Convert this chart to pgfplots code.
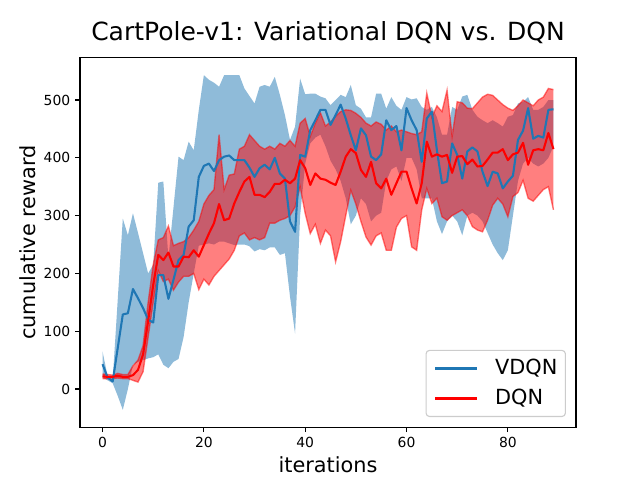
\documentclass[border=0pt]{standalone}
\usepackage{fontspec}
\setmainfont{DejaVu Sans}
\usepackage{pgfplots}
\usepackage{pgfplotstable}
\pgfplotsset{compat=1.18}
\usepgfplotslibrary{fillbetween}
\definecolor{cA}{RGB}{31,119,180}
\pgfplotstableread{
i vm vu vl dm du dl
0 43 65 20 22 26 18
1 20 22 15 21 25 18
2 13 15 10 21 24 18
3 71 155 -12 23 27 19
4 129 295 -36 21 25 18
5 131 266 0 21 25 18
6 173 304 42 24 40 15
7 157 270 47 33 50 12
8 140 235 50 60 75 30
9 120 200 53 118 150 90
10 115 215 55 180 215 150
11 197 357 60 232 258 205
12 197 359 42 223 262 186
13 156 226 36 236 282 190
14 189 314 47 212 248 171
15 223 402 52 212 252 185
16 232 396 90 229 255 195
17 281 428 150 228 262 195
18 292 413 200 240 275 200
19 367 483 248 229 290 172
20 386 543 250 249 320 190
21 390 535 252 269 335 180
22 377 530 250 287 345 195
23 396 523 255 320 440 205
24 402 543 255 292 345 215
25 404 543 252 295 370 225
26 396 543 249 321 372 240
27 396 543 250 341 415 265
28 396 520 250 359 420 270
29 383 507 247 367 440 258
30 367 494 238 336 430 262
31 382 523 242 336 420 258
32 388 526 240 332 415 262
33 380 523 245 341 420 287
34 400 540 245 355 415 287
35 373 509 232 355 425 292
36 364 474 235 362 420 295
37 290 431 160 356 430 300
38 272 454 96 364 420 315
39 405 537 300 396 460 350
40 402 510 390 382 468 304
41 448 511 425 353 437 269
42 465 511 435 373 460 285
43 483 506 440 364 478 252
44 483 503 420 362 455 275
45 457 491 395 357 462 265
46 474 500 380 353 472 220
47 492 509 360 376 480 255
48 468 505 330 402 483 300
49 439 526 285 415 482 344
50 413 491 300 408 477 320
51 451 485 330 379 470 290
52 439 470 320 367 460 263
53 402 470 290 393 455 249
54 396 511 300 356 462 265
55 406 511 305 347 458 270
56 465 485 360 364 448 240
57 448 505 380 336 455 240
58 455 490 385 356 445 280
59 413 483 360 376 448 295
60 486 505 400 376 445 300
61 465 501 400 347 442 246
62 448 503 380 321 440 240
63 393 488 330 356 445 310
64 468 483 330 428 512 347
65 480 488 330 402 470 321
66 413 470 290 406 490 330
67 356 440 268 402 480 298
68 359 440 290 405 517 292
69 425 488 300 374 437 300
70 405 483 290 402 497 305
71 364 506 266 403 495 310
72 411 509 300 389 486 300
73 418 483 305 397 485 281
74 411 471 300 385 495 275
75 376 465 290 386 505 272
76 351 460 270 397 510 292
77 376 465 250 409 508 318
78 373 460 235 409 500 330
79 347 454 223 415 492 320
80 359 471 240 396 486 298
81 369 474 300 406 482 333
82 431 494 360 409 490 340
83 447 497 390 426 500 361
84 486 505 400 388 495 330
85 433 483 390 413 490 325
86 438 483 385 415 500 335
87 435 488 390 413 505 345
88 483 500 400 443 520 350
89 484 500 420 415 518 310
}\data
\begin{document}
\begin{tikzpicture}
\begin{axis}[
  at={(0,0)}, anchor=south west,
  scale only axis, width=357.12pt, height=266.112pt,
  xmin=-4.45, xmax=93.45, ymin=-66.1, ymax=573.4,
  xtick={0,20,40,60,80}, ytick={0,100,200,300,400,500},
  tick pos=left, tick align=outside, major tick length=3.5pt,
  tick style={line width=0.8pt, black},
  axis line style={line width=0.8pt},
  tick label style={font=\fontsize{10}{12}\selectfont},
  /pgf/number format/assume math mode=true,
  title={CartPole-v1: Variational DQN vs. DQN},
  title style={font=\fontsize{18}{21}\selectfont, at={(axis description cs:0.5,1.02255)}, anchor=base},
  xlabel={iterations}, ylabel={cumulative reward},
  xlabel style={font=\fontsize{15}{18}\selectfont, at={(axis description cs:0.5,-0.1214)}, anchor=base},
  ylabel style={font=\fontsize{15}{18}\selectfont, at={(axis description cs:-0.0888,0.5)}, anchor=base},
  legend style={at={(axis description cs:0.9798,0.0274)}, anchor=south east,
    font=\fontsize{15}{18}\selectfont,
    draw=black!20, line width=0.8pt, rounded corners=2.5pt, fill=white, fill opacity=0.8, text opacity=1,
    inner xsep=5.8pt, inner ysep=6pt, row sep=7.6pt, column sep=12.2pt,
    nodes={inner sep=0pt, text height=11pt, text depth=3pt}},
  legend cell align=left,
  legend image code/.code={\draw[#1] (0pt,0pt) -- (30.2pt,0pt);},
]
\addplot[name path=VU, draw=none, forget plot] table[x=i,y=vu]{\data};
\addplot[name path=VL, draw=none, forget plot] table[x=i,y=vl]{\data};
\addplot[fill=cA, fill opacity=0.5, draw=none, forget plot] fill between[of=VU and VL];
\addplot[name path=DU, draw=none, forget plot] table[x=i,y=du]{\data};
\addplot[name path=DL, draw=none, forget plot] table[x=i,y=dl]{\data};
\addplot[fill=red, fill opacity=0.5, draw=none, forget plot] fill between[of=DU and DL];
\addplot[red, draw opacity=0.5, line width=1pt, forget plot] table[x=i,y=du]{\data};
\addplot[red, draw opacity=0.5, line width=1pt, forget plot] table[x=i,y=dl]{\data};
\addplot[cA, line width=1.5pt, line join=round, mark=none] table[x=i,y=vm]{\data};
\addlegendentry{VDQN}
\addplot[red, line width=1.5pt, line join=round, mark=none] table[x=i,y=dm]{\data};
\addlegendentry{DQN}
\end{axis}
\pgfresetboundingbox
\path[use as bounding box] (-57.6pt,-38.016pt) rectangle (403.2pt,307.584pt);
\end{tikzpicture}
\end{document}
